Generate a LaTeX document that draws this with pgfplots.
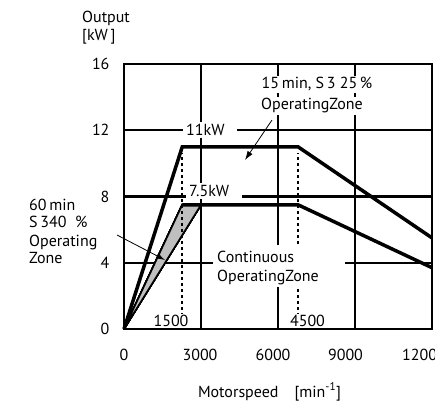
\documentclass[border=0pt]{standalone}
\usepackage{fontspec}
\setmainfont{PT Sans}
\usepackage{pgfplots}
\pgfplotsset{compat=1.18}
\usetikzlibrary{arrows.meta}

\begin{document}
\fontsize{16}{19}\selectfont
\begin{tikzpicture}[x=1pt,y=1pt]
\useasboundingbox (-124,-77) rectangle (311,329);
\begin{axis}[
  at={(0,0)}, anchor=south west,
  scale only axis, width=308pt, height=265pt,
  xmin=0, xmax=12000, ymin=0, ymax=16,
  xtick={0,3000,6000,9000,12000},
  xticklabels={},
  scaled x ticks=false,
  ytick={0,4,8,12,16},
  major tick length=0pt,
  axis line style={line width=2pt},
  /pgf/number format/assume math mode=true,
  tick label style={font=\fontsize{16}{19}\selectfont},
  yticklabel style={xshift=-9pt},
  clip=false,
]
% grid
\foreach \g in {3000,6000,9000}
  \edef\tmp{\noexpand\draw[black, line width=2.2pt] (axis cs:\g,0) -- (axis cs:\g,16);}\tmp
\foreach \g in {4,8,12}
  \edef\tmp{\noexpand\draw[black, line width=2.2pt] (axis cs:0,\g) -- (axis cs:12000,\g);}\tmp
% 60 min S3 40 % zone (shaded wedge)
\addplot[fill=black!25, draw=black, line width=1.6pt, line join=miter]
  coordinates {(0,0) (2270,7.5) (3000,7.5)} -- cycle;
% corner speeds
\addplot[black, line width=2pt, dash pattern=on 3pt off 3pt]
  coordinates {(2270,0.8) (2270,10.6)};
\addplot[black, line width=2pt, dash pattern=on 3pt off 3pt]
  coordinates {(6780,0.8) (6780,10.6)};
% 15 min S3 25 % output
\addplot[black, line width=3.5pt, line join=miter]
  coordinates {(0,0) (2270,11) (6780,11) (12000,5.5)};
% continuous output
\addplot[black, line width=3.5pt, line join=miter]
  coordinates {(2270,7.5) (6780,7.5) (12000,3.7)};
\end{axis}

% speed scale
\foreach \xx/\lab in {0/0, 76/3000, 149/6000, 221.5/9000, 300/12000}
  \node[anchor=base, inner sep=0pt] at (\xx,-31) {\lab};

% labels set over the grid
\tikzset{lbl/.style={fill=white, inner sep=2pt}}
\node[lbl, anchor=west, inner xsep=3pt, text width=48pt, align=left] at (59,199) {11kW};
\node[lbl, anchor=west, inner xsep=3pt, text width=50pt, align=left] at (62,138) {7.5kW};
\node[lbl, anchor=base] at (193,240) {15\,min, S\,3 25\,\%};
\node[lbl, anchor=base] at (188,219) {OperatingZone};
\fill[white] (89,42) rectangle (221,84);
\node[anchor=base west, inner sep=0pt] at (93,66) {Continuous};
\node[anchor=base west, inner sep=0pt] at (93,47) {OperatingZone};
\node[fill=white, inner sep=1pt, anchor=base] at (47,3) {1500};
\node[fill=white, inner sep=1pt, anchor=base] at (183.5,3) {4500};

% leaders
\draw[-{Latex[length=9pt,width=6pt]}, line width=0.8pt] (148,209) -- (121,169);
\draw[-{Latex[length=9pt,width=6pt]}, line width=0.8pt] (-7,94) -- (41,69);

% 60 min zone caption
\node[anchor=base west, inner sep=0pt] at (-95,118) {60\,min};
\node[anchor=base west, inner sep=0pt] at (-95,101) {S\,340 \ \%};
\node[anchor=base west, inner sep=0pt] at (-95,82) {Operating};
\node[anchor=base west, inner sep=0pt] at (-95,65) {Zone};

% axis titles
\node[anchor=base west, inner sep=0pt] at (-42,306) {Output};
\node[anchor=base west, inner sep=0pt] at (-42,288) {[kW\,]};
\node[anchor=base, inner sep=0pt] at (145.5,-68) {Motorspeed\quad[min\textsuperscript{-1}]};
\end{tikzpicture}
\end{document}
